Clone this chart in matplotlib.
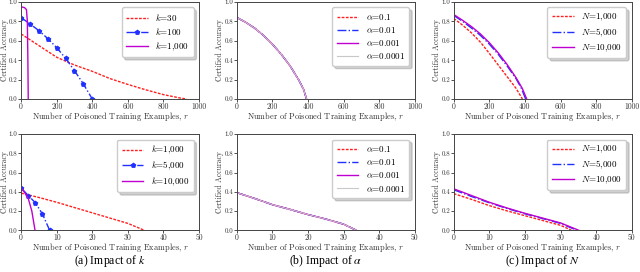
import matplotlib
matplotlib.use("Agg")
import matplotlib.pyplot as plt

plt.rcParams['font.family'] = 'serif'
plt.rcParams['font.serif'] = ['cmr10']
plt.rcParams['mathtext.fontset'] = 'cm'
plt.rcParams['axes.unicode_minus'] = False
plt.rcParams['axes.formatter.use_mathtext'] = True

# ---- data ----
# (a) impact of k, top row
k30_r = [0, 100, 200, 300, 400, 500, 600, 700, 800, 900, 930]
k30_acc = [0.67, 0.55, 0.43, 0.35, 0.285, 0.21, 0.15, 0.095, 0.045, 0.008, 0.0]
k100_r = [0, 50, 100, 150, 200, 250, 300, 350, 400]
k100_acc = [0.838, 0.773, 0.704, 0.622, 0.529, 0.419, 0.292, 0.155, 0.0]
k1000_r = [0, 10, 20, 30, 35, 38, 40]
k1000_acc = [0.95, 0.945, 0.94, 0.92, 0.8, 0.4, 0.0]

# (a) impact of k, bottom row
k1k_r = [0, 5, 10, 15, 20, 25, 30, 34.5]
k1k_acc = [0.385, 0.34, 0.29, 0.235, 0.18, 0.125, 0.07, 0.0]
k5k_r = [0, 2, 4, 6, 8]
k5k_acc = [0.44, 0.36, 0.285, 0.167, 0.0]
k10k_r = [0, 1, 2, 3, 3.9]
k10k_acc = [0.44, 0.39, 0.33, 0.2, 0.0]

# (b) impact of alpha (curves nearly identical)
alpha_labels = [r'$\alpha$=0.1', r'$\alpha$=0.01', r'$\alpha$=0.001', r'$\alpha$=0.0001']
alpha_top_r = [0, 50, 100, 150, 200, 250, 300, 350, 375, 392]
alpha_top_acc = [0.84, 0.79, 0.73, 0.655, 0.565, 0.46, 0.34, 0.19, 0.10, 0.0]
alpha_bot_r = [0, 5, 10, 15, 20, 25, 30, 33.5]
alpha_bot_acc = [0.39, 0.33, 0.265, 0.215, 0.162, 0.115, 0.062, 0.0]

# (c) impact of N
n1k_top_r = [0, 50, 100, 150, 200, 250, 300, 350, 386]
n1k_top_acc = [0.83, 0.76, 0.68, 0.585, 0.47, 0.35, 0.23, 0.11, 0.0]
n5k_top_r = [0, 50, 100, 150, 200, 250, 300, 350, 380, 404]
n5k_top_acc = [0.86, 0.80, 0.73, 0.655, 0.565, 0.46, 0.34, 0.21, 0.11, 0.0]
n10k_top_r = [0, 50, 100, 150, 200, 250, 300, 350, 385, 410]
n10k_top_acc = [0.87, 0.81, 0.745, 0.67, 0.58, 0.475, 0.355, 0.22, 0.11, 0.0]

n1k_bot_r = [0, 5, 10, 15, 20, 25, 30, 33]
n1k_bot_acc = [0.38, 0.32, 0.255, 0.2, 0.15, 0.1, 0.05, 0.0]
n5k_bot_r = [0, 5, 10, 15, 20, 25, 30, 34.5]
n5k_bot_acc = [0.42, 0.35, 0.285, 0.225, 0.17, 0.12, 0.07, 0.0]
n10k_bot_r = [0, 5, 10, 15, 20, 25, 30, 35]
n10k_bot_acc = [0.43, 0.36, 0.29, 0.23, 0.175, 0.125, 0.075, 0.0]

captions = [r'(a) Impact of $k$', r'(b) Impact of $\alpha$', r'(c) Impact of $N$']

RED = dict(color='#ff2020', ls=(0, (2, 1)), lw=1.0)
BLUE = dict(color='#2030ff', ls='-.', lw=1.0)
MAG = dict(color='#c000d0', ls='-', lw=1.0)
GRAY = dict(color='#c8c8c8', ls='-', lw=0.8)

fig = plt.figure(figsize=(6.4, 2.72), dpi=100)
lefts = [0.033, 0.370, 0.709]
w = 0.278
top_ax = [fig.add_axes([l, 0.636, w, 0.357]) for l in lefts]
bot_ax = [fig.add_axes([l, 0.154, w, 0.353]) for l in lefts]

# (a)
ax = top_ax[0]
ax.plot(k30_r, k30_acc, label=r'$k$=30', **RED)
ax.plot(k100_r, k100_acc, label=r'$k$=100', marker='p', ms=3, **BLUE)
ax.plot(k1000_r, k1000_acc, label=r'$k$=1,000', **MAG)
ax = bot_ax[0]
ax.plot(k1k_r, k1k_acc, label=r'$k$=1,000', **RED)
ax.plot(k5k_r, k5k_acc, label=r'$k$=5,000', marker='p', ms=3, **BLUE)
ax.plot(k10k_r, k10k_acc, label=r'$k$=10,000', **MAG)

# (b)
for ax, r, acc in [(top_ax[1], alpha_top_r, alpha_top_acc), (bot_ax[1], alpha_bot_r, alpha_bot_acc)]:
    for lab, st in zip(alpha_labels, [RED, BLUE, MAG, GRAY]):
        ax.plot(r, acc, label=lab, **st)

# (c)
ax = top_ax[2]
ax.plot(n1k_top_r, n1k_top_acc, label=r'$N$=1,000', **RED)
ax.plot(n5k_top_r, n5k_top_acc, label=r'$N$=5,000', **BLUE)
ax.plot(n10k_top_r, n10k_top_acc, label=r'$N$=10,000', **MAG)
ax = bot_ax[2]
ax.plot(n1k_bot_r, n1k_bot_acc, label=r'$N$=1,000', **RED)
ax.plot(n5k_bot_r, n5k_bot_acc, label=r'$N$=5,000', **BLUE)
ax.plot(n10k_bot_r, n10k_bot_acc, label=r'$N$=10,000', **MAG)

for row, xmax, step in [(top_ax, 1000, 200), (bot_ax, 50, 10)]:
    for ax in row:
        ax.set_xlim(0, xmax)
        ax.set_ylim(0, 1.0)
        ax.set_xticks(range(0, xmax + 1, step))
        ax.set_yticks([0, 0.2, 0.4, 0.6, 0.8, 1.0])
        ax.yaxis.set_major_formatter(matplotlib.ticker.FormatStrFormatter('%.1f'))
        ax.xaxis.set_major_formatter(matplotlib.ticker.FormatStrFormatter('%d'))
        ax.tick_params(labelsize=5, length=2, width=0.6, pad=0.6, colors='#333333')
        ax.tick_params(axis='x', labelsize=5.5)
        for s in ax.spines.values():
            s.set_linewidth(0.7)
            s.set_color('#444444')
        ax.set_ylabel('Certified Accuracy', fontsize=5.5, color='#333333')
        ax.yaxis.set_label_coords(-0.07, 0.5)
        ax.set_xlabel(r'Number of Poisoned Training Examples, $r$', fontsize=6, color='#333333')
        ax.xaxis.set_label_coords(0.5, -0.115)
        ax.legend(loc='upper right', fontsize=6.5, handlelength=2.4, fancybox=True,
                  shadow={'color': 'gray', 'alpha': 0.35}, framealpha=1.0, borderpad=0.5,
                  labelspacing=0.35, handletextpad=0.8, edgecolor='#cccccc', borderaxespad=0.6)

for ax, cap in zip(bot_ax, captions):
    pos = ax.get_position()
    fig.text(pos.x0 + pos.width / 2, 0.04, cap, ha='center', va='center', fontsize=8.5,
             family='Liberation Serif', math_fontfamily='stix')

fig.savefig('out.png', dpi=100)
